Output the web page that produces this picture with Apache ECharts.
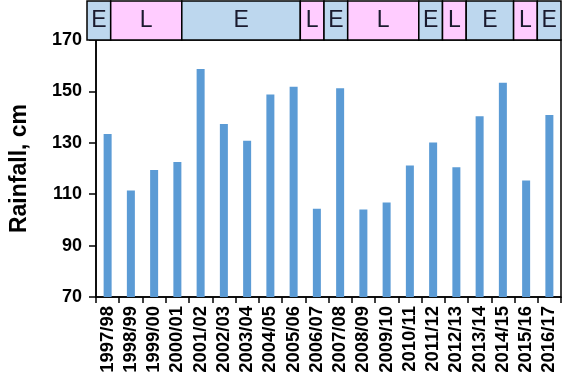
<!DOCTYPE html>
<html>
<head>
<meta charset="utf-8">
<script src="https://cdn.jsdelivr.net/npm/echarts@6/dist/echarts.min.js"></script>
<style>
html,body{margin:0;padding:0;background:#fff;}
#chart{width:563px;height:382px;}
</style>
</head>
<body>
<div id="chart"></div>
<script>
var seasons = ['1997/98','1998/99','1999/00','2000/01','2001/02','2002/03','2003/04','2004/05','2005/06','2006/07',
  '2007/08','2008/09','2009/10','2010/11','2011/12','2012/13','2013/14','2014/15','2015/16','2016/17'];
var rainfall = [133.4,111.4,119.4,122.5,158.7,137.3,130.8,148.8,151.8,104.3,
  151.2,104.0,106.8,121.2,130.1,120.5,140.3,153.4,115.3,140.8];
var enso = ['E','L','L','L','E','E','E','E','E','L','E','L','L','L','E','L','E','E','L','E'];
var yTicks = [70, 90, 110, 130, 150, 170];

// group consecutive phases into segments
var segments = [];
for (var i = 0; i < enso.length; i++) {
  var last = segments[segments.length - 1];
  if (last && last[2] === enso[i]) { last[1] = i; }
  else { segments.push([i, i, enso[i]]); }
}
var phaseColor = { E: '#bdd7ee', L: '#ffccff' };

var chart = echarts.init(document.getElementById('chart'));
var gridLeft = 87, gridRight = 2;
chart.setOption({
  animation: false,
  grid: [
    { left: gridLeft, right: gridRight, top: 40, bottom: 85, show: true, borderColor: '#000', borderWidth: 1.5, backgroundColor: 'transparent' },
    { left: gridLeft, right: gridRight, top: 1, height: 39 }
  ],
  xAxis: [
    {
      type: 'category', data: seasons, gridIndex: 0,
      axisLine: { lineStyle: { color: '#000', width: 1.5 } },
      axisTick: { show: true, interval: 0, length: 6, lineStyle: { color: '#000', width: 1.5 } },
      axisLabel: { interval: 0, hideOverlap: false, rotate: 90, margin: 9, color: '#000', fontWeight: 'bold', fontSize: 18.5, fontFamily: 'Liberation Sans, Arial, sans-serif' }
    },
    { type: 'category', data: seasons, gridIndex: 1, show: false }
  ],
  yAxis: [
    {
      type: 'value', gridIndex: 0, min: yTicks[0], max: yTicks[yTicks.length - 1], interval: 20,
      name: 'Rainfall, cm', nameLocation: 'middle', nameGap: 65, nameRotate: 90,
      nameTextStyle: { color: '#000', fontWeight: 'bold', fontSize: 23, fontFamily: 'Liberation Sans, Arial, sans-serif' },
      axisLine: { show: true, lineStyle: { color: '#000', width: 1.5 } },
      axisTick: { show: true, length: 7, lineStyle: { color: '#000', width: 1.5 } },
      splitLine: { show: false },
      axisLabel: { margin: 14, color: '#000', fontWeight: 'bold', fontSize: 18, fontFamily: 'Liberation Sans, Arial, sans-serif' }
    },
    { type: 'value', gridIndex: 1, min: 0, max: 1, show: false }
  ],
  series: [
    {
      type: 'bar', xAxisIndex: 0, yAxisIndex: 0, data: rainfall, barWidth: 8,
      itemStyle: { color: '#5b9bd5' }
    },
    {
      type: 'custom', xAxisIndex: 1, yAxisIndex: 1,
      data: segments,
      encode: { x: [0, 1] },
      renderItem: function (params, api) {
        var s = api.value(0), e = api.value(1);
        var bw = api.size([1, 0])[0];
        var p0 = api.coord([s, 1]);
        var p1 = api.coord([e, 0]);
        var x0 = p0[0] - bw / 2, x1 = p1[0] + bw / 2;
        var label = segments[params.dataIndex][2];
        return {
          type: 'rect',
          shape: { x: x0, y: p0[1], width: x1 - x0, height: p1[1] - p0[1] },
          style: { fill: phaseColor[label], stroke: '#000', lineWidth: 1.5 },
          textContent: { style: { text: label, fontSize: 23, fill: '#1a1a2e', fontFamily: 'Liberation Sans, Arial, sans-serif' } },
          textConfig: { position: 'inside' }
        };
      }
    }
  ]
});
</script>
</body>
</html>
